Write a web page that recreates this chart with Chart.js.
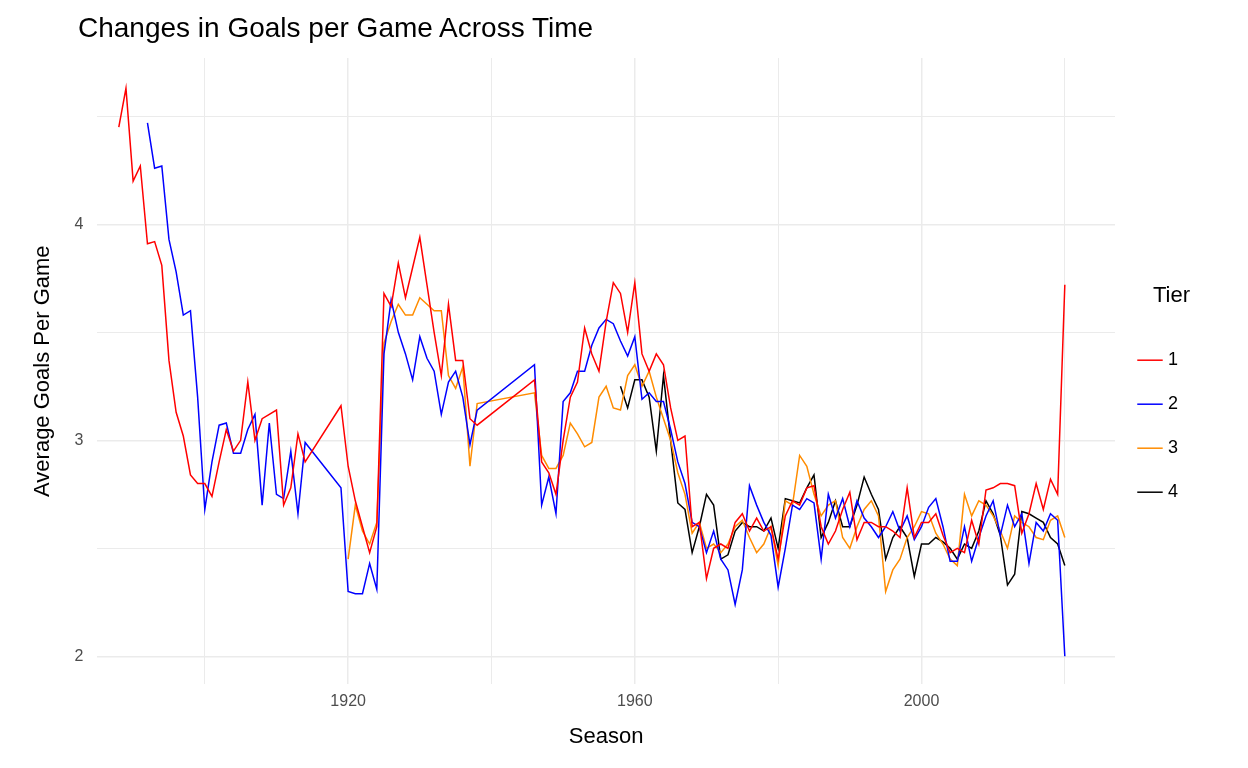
<!DOCTYPE html>
<html>
<head>
<meta charset="utf-8">
<script src="https://cdn.jsdelivr.net/npm/chart.js@4"></script>
<style>
  html, body { margin: 0; padding: 0; background: #fff; }
  #wrap { position: relative; width: 1248px; height: 768px; }
  #title { position: absolute; left: 78px; top: 12px; font: 28px Arial, "Liberation Sans", sans-serif; color: #000; }
</style>
</head>
<body>
<div id="wrap"><div id="title">Changes in Goals per Game Across Time</div><canvas id="chart"></canvas></div>
<script>
// seasons and average goals per game
const tier1Years = [1888,1889,1890,1891,1892,1893,1894,1895,1896,1897,1898,1899,1900,1901,1902,1903,1904,1905,1906,1907,1908,1909,1910,1911,1912,1913,1914,
  1919,1920,1921,1922,1923,1924,1925,1926,1927,1928,1929,1930,1931,1932,1933,1934,1935,1936,1937,1938,
  1946,1947,1948,1949,1950,1951,1952,1953,1954,1955,1956,1957,1958,1959,1960,1961,1962,1963,1964,1965,1966,1967,1968,1969,1970,1971,1972,1973,1974,1975,1976,1977,1978,1979,1980,1981,1982,1983,1984,1985,1986,1987,1988,1989,1990,1991,1992,1993,1994,1995,1996,1997,1998,1999,2000,2001,2002,2003,2004,2005,2006,2007,2008,2009,2010,2011,2012,2013,2014,2015,2016,2017,2018,2019,2020];
const tier1Goals = [4.45,4.63,4.20,4.27,3.91,3.92,3.81,3.37,3.13,3.02,2.84,2.80,2.80,2.74,2.90,3.05,2.95,3.00,3.27,3.00,3.10,3.12,3.14,2.70,2.78,3.03,2.90,
  3.16,2.88,2.72,2.60,2.48,2.60,3.68,3.62,3.82,3.66,3.80,3.94,3.72,3.50,3.30,3.63,3.37,3.37,3.10,3.07,
  3.28,2.90,2.85,2.75,3.00,3.20,3.27,3.52,3.40,3.32,3.55,3.73,3.68,3.50,3.73,3.40,3.32,3.40,3.35,3.15,3.00,3.02,2.60,2.62,2.36,2.50,2.52,2.50,2.62,2.66,2.58,2.64,2.58,2.60,2.45,2.65,2.72,2.70,2.78,2.79,2.60,2.52,2.58,2.68,2.76,2.54,2.62,2.62,2.60,2.60,2.58,2.55,2.78,2.55,2.62,2.62,2.66,2.56,2.48,2.50,2.48,2.63,2.52,2.77,2.78,2.80,2.80,2.79,2.57,2.66,2.80,2.68,2.82,2.75,3.72];

const tier2Years = [1892,1893,1894,1895,1896,1897,1898,1899,1900,1901,1902,1903,1904,1905,1906,1907,1908,1909,1910,1911,1912,1913,1914,
  1919,1920,1921,1922,1923,1924,1925,1926,1927,1928,1929,1930,1931,1932,1933,1934,1935,1936,1937,1938,
  1946,1947,1948,1949,1950,1951,1952,1953,1954,1955,1956,1957,1958,1959,1960,1961,1962,1963,1964,1965,1966,1967,1968,1969,1970,1971,1972,1973,1974,1975,1976,1977,1978,1979,1980,1981,1982,1983,1984,1985,1986,1987,1988,1989,1990,1991,1992,1993,1994,1995,1996,1997,1998,1999,2000,2001,2002,2003,2004,2005,2006,2007,2008,2009,2010,2011,2012,2013,2014,2015,2016,2017,2018,2019,2020];
const tier2Goals = [4.47,4.26,4.27,3.93,3.78,3.58,3.60,3.20,2.68,2.90,3.07,3.08,2.94,2.94,3.05,3.12,2.70,3.08,2.75,2.73,2.95,2.66,2.99,
  2.78,2.30,2.29,2.29,2.43,2.31,3.40,3.65,3.50,3.40,3.28,3.48,3.38,3.32,3.12,3.27,3.32,3.20,2.98,3.14,
  3.35,2.70,2.83,2.66,3.18,3.22,3.32,3.32,3.44,3.52,3.56,3.54,3.46,3.39,3.48,3.19,3.22,3.18,3.18,3.05,2.90,2.80,2.62,2.60,2.48,2.58,2.45,2.40,2.24,2.40,2.79,2.70,2.62,2.56,2.32,2.50,2.70,2.68,2.73,2.71,2.45,2.75,2.64,2.73,2.60,2.72,2.64,2.60,2.55,2.60,2.67,2.58,2.65,2.54,2.60,2.69,2.73,2.60,2.44,2.44,2.60,2.44,2.55,2.65,2.72,2.56,2.70,2.60,2.66,2.43,2.62,2.58,2.66,2.63,2.00];

const tier3Years = [1920,1921,1922,1923,1924,1925,1926,1927,1928,1929,1930,1931,1932,1933,1934,1935,1936,1937,1938,
  1946,1947,1948,1949,1950,1951,1952,1953,1954,1955,1956,1957,1958,1959,1960,1961,1962,1963,1964,1965,1966,1967,1968,1969,1970,1971,1972,1973,1974,1975,1976,1977,1978,1979,1980,1981,1982,1983,1984,1985,1986,1987,1988,1989,1990,1991,1992,1993,1994,1995,1996,1997,1998,1999,2000,2001,2002,2003,2004,2005,2006,2007,2008,2009,2010,2011,2012,2013,2014,2015,2016,2017,2018,2019,2020];
const tier3Goals = [2.45,2.70,2.58,2.52,2.62,3.45,3.55,3.63,3.58,3.58,3.66,3.63,3.60,3.60,3.30,3.24,3.34,2.88,3.17,
  3.22,2.93,2.87,2.87,2.93,3.08,3.03,2.97,2.99,3.20,3.25,3.15,3.14,3.30,3.35,3.25,3.32,3.20,3.10,3.00,2.85,2.75,2.57,2.62,2.50,2.52,2.48,2.52,2.60,2.63,2.55,2.48,2.52,2.60,2.42,2.72,2.70,2.93,2.88,2.75,2.65,2.70,2.72,2.55,2.50,2.60,2.68,2.72,2.65,2.30,2.40,2.45,2.55,2.60,2.67,2.66,2.57,2.52,2.45,2.42,2.75,2.65,2.72,2.70,2.65,2.58,2.50,2.65,2.62,2.60,2.55,2.54,2.63,2.65,2.55];

const tier4Years = [1958,1959,1960,1961,1962,1963,1964,1965,1966,1967,1968,1969,1970,1971,1972,1973,1974,1975,1976,1977,1978,1979,1980,1981,1982,1983,1984,1985,1986,1987,1988,1989,1990,1991,1992,1993,1994,1995,1996,1997,1998,1999,2000,2001,2002,2003,2004,2005,2006,2007,2008,2009,2010,2011,2012,2013,2014,2015,2016,2017,2018,2019,2020];
const tier4Goals = [3.25,3.15,3.28,3.28,3.20,2.95,3.30,3.00,2.71,2.68,2.48,2.60,2.75,2.70,2.45,2.47,2.58,2.62,2.60,2.60,2.58,2.64,2.50,2.73,2.72,2.71,2.78,2.84,2.55,2.62,2.72,2.60,2.60,2.70,2.83,2.75,2.68,2.45,2.55,2.60,2.55,2.37,2.52,2.52,2.55,2.53,2.50,2.45,2.52,2.50,2.58,2.72,2.66,2.56,2.33,2.38,2.67,2.66,2.64,2.62,2.55,2.52,2.42];

const tierNames = ['1', '2', '3', '4'];
const tierColors = ['#FF0000', '#0000FF', '#FF8C00', '#000000'];
const yTickLabels = [2, 3, 4];
const xTickLabels = [1920, 1960, 2000];

const series = [[tier1Years, tier1Goals], [tier2Years, tier2Goals], [tier3Years, tier3Goals], [tier4Years, tier4Goals]];

const datasets = series.map(([years, goals], i) => ({
  label: tierNames[i],
  data: years.map((yr, j) => ({ x: yr, y: goals[j] })),
  borderColor: tierColors[i],
  backgroundColor: tierColors[i],
  borderWidth: 1.5,
  pointRadius: 0,
  tension: 0
}));

const font = 'Arial, "Liberation Sans", sans-serif';

// widen the legend box so there is a gap between the panel and the legend
const legendGap = {
  id: 'legendGap',
  afterInit(chart) {
    const lg = chart.legend;
    const fit = lg.fit;
    lg.fit = function () { fit.call(this); this.width += 40; };
  }
};

new Chart(document.getElementById('chart'), {
  type: 'line',
  data: { datasets },
  plugins: [legendGap],
  options: {
    responsive: true,
    maintainAspectRatio: false,
    animation: false,
    layout: { padding: { left: 26, right: 20, top: 58, bottom: 14 } },
    plugins: {
      legend: {
        position: 'right',
        align: 'center',
        title: { display: true, text: 'Tier', color: '#000', font: { family: font, size: 22 }, padding: { top: 0, bottom: 14 } },
        labels: {
          color: '#000', font: { family: font, size: 18 },
          usePointStyle: true, pointStyle: 'line', boxWidth: 30, padding: 26
        }
      },
      tooltip: { enabled: false }
    },
    scales: {
      x: {
        type: 'linear', min: 1885, max: 2027,
        title: { display: true, text: 'Season', color: '#000', font: { family: font, size: 22 }, padding: { top: 4 } },
        grid: { color: '#ebebeb', lineWidth: (c) => (c.tick.value % 40 === 0 ? 1.5 : 1), drawTicks: false },
        border: { display: false },
        afterBuildTicks: (axis) => { axis.ticks = [1900, 1920, 1940, 1960, 1980, 2000, 2020].map(v => ({ value: v })); },
        ticks: { color: '#4d4d4d', font: { family: font, size: 16 }, padding: 8, maxRotation: 0, autoSkip: false,
          callback: (v) => (xTickLabels.includes(v) ? String(v) : '') }
      },
      y: {
        min: 1.87, max: 4.77,
        title: { display: true, text: 'Average Goals Per Game', color: '#000', font: { family: font, size: 22 } },
        grid: { color: '#ebebeb', lineWidth: (c) => (yTickLabels.includes(c.tick.value) ? 1.5 : 1), drawTicks: false },
        border: { display: false },
        afterBuildTicks: (axis) => { axis.ticks = [2, 2.5, 3, 3.5, 4, 4.5].map(v => ({ value: v })); },
        ticks: { color: '#4d4d4d', font: { family: font, size: 16 }, padding: 14,
          callback: (v) => (yTickLabels.includes(v) ? String(v) : '') }
      }
    }
  }
});
</script>
</body>
</html>
